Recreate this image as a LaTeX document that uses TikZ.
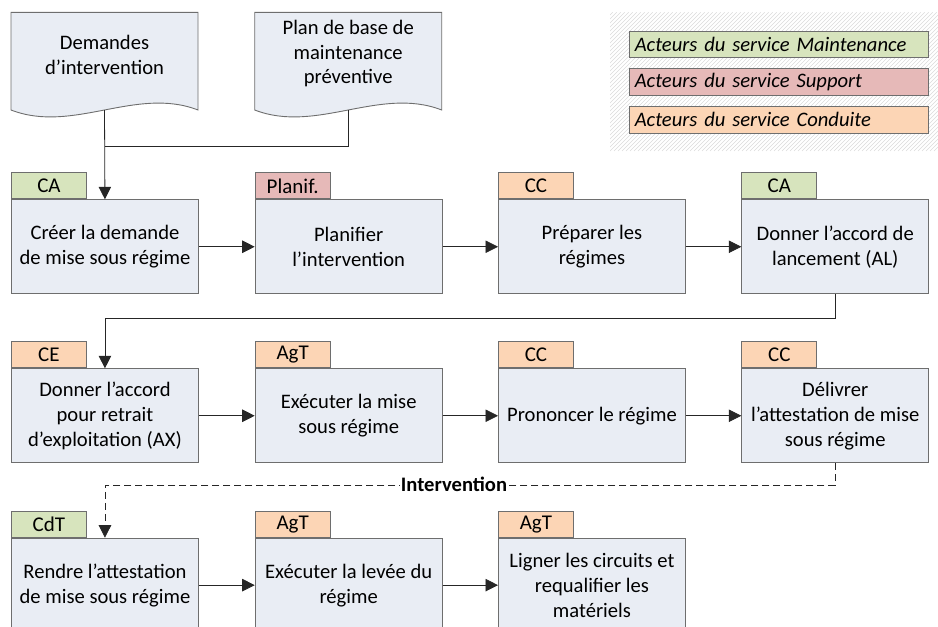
\documentclass[tikz,border=0pt]{standalone}
\usepackage{fontspec}
\setmainfont{Carlito}
\usetikzlibrary{arrows.meta}
\definecolor{boxfill}{HTML}{E9EDF4}
\definecolor{boxline}{HTML}{6E6E6E}
\definecolor{tgreen}{HTML}{D7E4BD}
\definecolor{tred}{HTML}{E6B9B8}
\definecolor{torange}{HTML}{FCD5B5}
\definecolor{hatchcol}{HTML}{DADADA}
\begin{document}
\begin{tikzpicture}[x=1pt,y=-1pt,
  proc/.style={draw=boxline, fill=boxfill, line width=0.9pt, minimum width=187pt,
    minimum height=94pt, inner sep=0pt, align=center,
    font=\fontsize{20.6}{25}\selectfont, anchor=north west},
  tagbox/.style={draw=boxline, line width=0.9pt, minimum width=75pt, minimum height=26pt,
    inner sep=0pt, font=\fontsize{21}{24}\selectfont, anchor=south west},
  docshape/.style={draw=boxline, fill=boxfill, line width=0.9pt},
  doctext/.style={align=center, font=\fontsize{20.6}{24.5}\selectfont},
  legbox/.style={draw=boxline, line width=0.9pt, minimum height=26.6pt, inner xsep=5pt,
    inner ysep=0pt, text width=289pt, align=left, anchor=north west,
    font=\fontsize{20.6}{24}\selectfont\itshape},
  conn/.style={draw=black!85, line width=0.8pt},
  arr/.style={conn, -{Triangle[length=12.5pt,width=12.5pt]}},
  lbl/.style={fill=white, inner sep=1pt, font=\fontsize{20.6}{24}\selectfont\bfseries}
]
\useasboundingbox (0,0) rectangle (938,627);
\clip (0,0) rectangle (938,627);

% legend hatched background
\begin{scope}
  \clip (610,12.3) rectangle (938,151);
  \foreach \i in {466,470,...,942}
    \draw[hatchcol, line width=0.6pt] (\i,151) -- ({\i+138.7},12.3);
\end{scope}
\node[legbox, fill=tgreen] (l1) at (629.3,30.7) {Acteurs du service Maintenance};
\node[legbox, fill=tred] (l2) at (629.3,68.3) {Acteurs du service Support};
\node[legbox, fill=torange] (l3) at (629.3,106) {Acteurs du service Conduite};

% documents
\draw[docshape] (11,12.3) -- (198,12.3) -- (198,110)
  .. controls (136,86) and (73,134) .. (11,110) -- cycle;
\node[doctext] (d1) at (104.5,55) {Demandes\\d’intervention};
\coordinate (d1b) at (104.5,110);
\draw[docshape] (254.7,12.3) -- (441.7,12.3) -- (441.7,110)
  .. controls (379.7,86) and (316.7,134) .. (254.7,110) -- cycle;
\node[doctext] (d2) at (348.2,54) {Plan de base de\\maintenance\\préventive};
\coordinate (d2b) at (348.2,110);

% row 1
\node[proc] (b1) at (11,199.3) {Créer la demande\\de mise sous régime};
\node[proc] (b2) at (254.7,199.3) {Planifier\\l’intervention};
\node[proc] (b3) at (498,199.3) {Préparer les\\régimes};
\node[proc] (b4) at (741.3,199.3) {Donner l’accord de\\lancement (AL)};
% row 2
\node[proc] (b5) at (11,368.3) {Donner l’accord\\pour retrait\\d’exploitation (AX)};
\node[proc] (b6) at (254.7,368.3) {Exécuter la mise\\sous régime};
\node[proc] (b7) at (498,368.3) {Prononcer le régime};
\node[proc] (b8) at (741.3,368.3) {Délivrer\\l’attestation de mise\\sous régime};
% row 3
\node[proc] (b9) at (11,537.7) {Rendre l’attestation\\de mise sous régime};
\node[proc] (b10) at (254.7,537.7) {Exécuter la levée du\\régime};
\node[proc] (b11) at (498,537.7) {Ligner les circuits et\\requalifier les\\matériels};

% tags
\node[tagbox, fill=tgreen] (t1) at (b1.north west) {CA};
\node[tagbox, fill=tred] (t2) at (b2.north west) {Planif.};
\node[tagbox, fill=torange] (t3) at (b3.north west) {CC};
\node[tagbox, fill=tgreen] (t4) at (b4.north west) {CA};
\node[tagbox, fill=torange] (t5) at (b5.north west) {CE};
\node[tagbox, fill=torange] (t6) at (b6.north west) {AgT};
\node[tagbox, fill=torange] (t7) at (b7.north west) {CC};
\node[tagbox, fill=torange] (t8) at (b8.north west) {CC};
\node[tagbox, fill=tgreen] (t9) at (b9.north west) {CdT};
\node[tagbox, fill=torange] (t10) at (b10.north west) {AgT};
\node[tagbox, fill=torange] (t11) at (b11.north west) {AgT};

% connectors
\coordinate (j) at (104.5,146.7);
\draw[conn] (d2b) |- (j);
\draw[arr] (d1b) -- (b1.north);
\draw[arr] (b1.east) -- (b2.west);
\draw[arr] (b2.east) -- (b3.west);
\draw[arr] (b3.east) -- (b4.west);
\draw[arr] (b4.south) -- ++(0,24) -| (b5.north);
\draw[arr] (b5.east) -- (b6.west);
\draw[arr] (b6.east) -- (b7.west);
\draw[arr] (b7.east) -- (b8.west);
\draw[arr, dash pattern=on 7pt off 4pt] (b8.south) -- ++(0,22) -| (b9.north);
\node[lbl] (lab) at (454,484.3) {Intervention};
\draw[arr] (b9.east) -- (b10.west);
\draw[arr] (b10.east) -- (b11.west);
\end{tikzpicture}
\end{document}
